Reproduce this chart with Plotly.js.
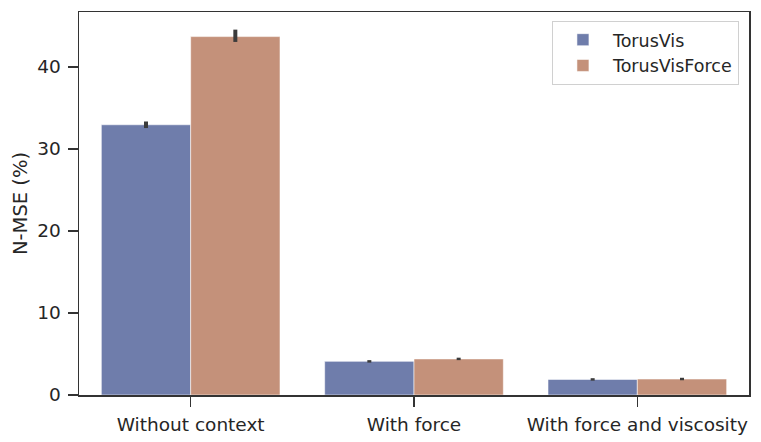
<!DOCTYPE html>
<html>
<head>
<meta charset="utf-8">
<script src="https://cdn.plot.ly/plotly-3.0.1.min.js"></script>
<style>html,body{margin:0;padding:0;background:#fff;}#chart{width:761px;height:442px;}</style>
</head>
<body>
<div id="chart"></div>
<script>
const categories = ["Without context", "With force", "With force and viscosity"];
const seriesNames = ["TorusVis", "TorusVisForce"];
const torusVis = [32.95, 4.1, 1.9];
const torusVisErrPlus = [0.4, 0.15, 0.15];
const torusVisErrMinus = [0.4, 0.15, 0.15];
const torusVisForce = [43.7, 4.4, 1.95];
const torusVisForceErrPlus = [0.85, 0.15, 0.15];
const torusVisForceErrMinus = [0.65, 0.15, 0.15];
const yTicks = [0, 10, 20, 30, 40];

const colors = ["#6f7dab", "#c4917a"];
const font = {family: "DejaVu Sans, sans-serif", size: 18.5, color: "#262626"};

function bar(name, y, ep, em, color) {
  return {
    type: "bar", name: name, x: categories, y: y,
    marker: {color: color, line: {color: "rgba(255,255,255,0.55)", width: 1}},
    error_y: {type: "data", symmetric: false, array: ep, arrayminus: em,
              color: "#3b3b3b", thickness: 4, width: 0}
  };
}

const data = [
  bar(seriesNames[0], torusVis, torusVisErrPlus, torusVisErrMinus, colors[0]),
  bar(seriesNames[1], torusVisForce, torusVisForceErrPlus, torusVisForceErrMinus, colors[1])
];

const layout = {
  width: 761, height: 442,
  margin: {l: 79, r: 12, t: 12, b: 47, pad: 0},
  paper_bgcolor: "#fff", plot_bgcolor: "#fff",
  font: font,
  barmode: "group", bargap: 0.2, bargroupgap: 0,
  showlegend: true,
  legend: {x: 0.985, y: 0.977, xanchor: "right", yanchor: "top",
           bgcolor: "rgba(255,255,255,0.8)", bordercolor: "#d0d0d0", borderwidth: 1,
           font: {family: font.family, size: 17.5, color: "#262626"},
           tracegroupgap: 4, itemwidth: 50},
  xaxis: {type: "category", showline: true, linecolor: "#333", linewidth: 1.5, mirror: true,
          ticks: "outside", ticklen: 10, tickwidth: 1.5, tickcolor: "#333",
          showgrid: false, zeroline: false, tickfont: font, ticklabelstandoff: 2},
  yaxis: {range: [0, 46.7], tickvals: yTicks, ticktext: yTicks.map(String),
          showline: true, linecolor: "#333", linewidth: 1.5, mirror: true,
          ticks: "outside", ticklen: 10, tickwidth: 1.5, tickcolor: "#333",
          showgrid: false, zeroline: false, tickfont: font, ticklabelstandoff: 3,
          title: {text: "N-MSE (%)", font: {family: font.family, size: 19.5, color: "#262626"}, standoff: 4}}
};

Plotly.newPlot("chart", data, layout, {displayModeBar: false, staticPlot: true});
</script>
</body>
</html>
